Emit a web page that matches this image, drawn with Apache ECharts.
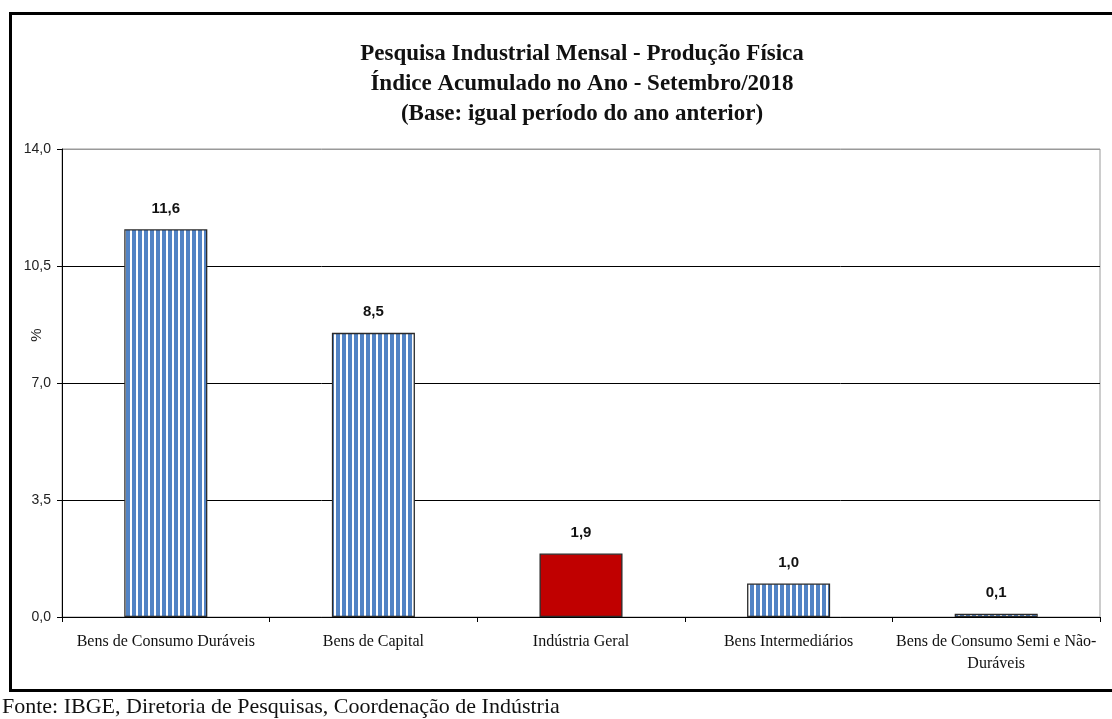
<!DOCTYPE html>
<html><head><meta charset="utf-8">
<script src="https://cdn.jsdelivr.net/npm/echarts@6/dist/echarts.min.js"></script>
<style>html,body{margin:0;padding:0;background:#fff}#c{width:1112px;height:719px}</style>
</head><body><div id="c"></div>
<script>
const categories = ['Bens de Consumo Duráveis','Bens de Capital','Indústria Geral','Bens Intermediários','Bens de Consumo Semi e Não-\nDuráveis'];
const values = [11.6, 8.5, 1.9, 1.0, 0.1];
const highlighted = [false, false, true, false, false];
const yTicks = [0, 3.5, 7, 10.5, 14];
const titleLines = ['Pesquisa Industrial Mensal - Produção Física','Índice Acumulado no Ano - Setembro/2018','(Base: igual período do ano anterior)'];
const yName = '%';
const footer = 'Fonte: IBGE, Diretoria de Pesquisas, Coordenação de Indústria';

const cv = document.createElement('canvas');
cv.width = 6; cv.height = 4;
const cx = cv.getContext('2d');
cx.fillStyle = '#ffffff'; cx.fillRect(0,0,6,4);
cx.fillStyle = '#5283c4'; cx.fillRect(0,0,4,4);
const stripe = {image: cv, repeat: 'repeat'};

const fmt = v => v.toFixed(1).replace('.', ',');
const chart = echarts.init(document.getElementById('c'), null, {renderer:'canvas'});
chart.setOption({
  animation: false,
  backgroundColor: '#fff',
  title: {
    text: titleLines.join('\n'), left: 577, top: 34, textAlign: 'center',
    textStyle: {fontFamily: 'Liberation Serif', fontWeight: 'bold', fontSize: 23, lineHeight: 30, color: '#111'}
  },
  grid: {left: 62, right: 12, top: 149, bottom: 102, show: true, borderColor: '#999', borderWidth: 1},
  xAxis: {
    type: 'category', data: categories,
    axisLine: {lineStyle: {color: '#000', width: 1}},
    axisTick: {show: true, length: 5, alignWithLabel: false, lineStyle: {color: '#000'}},
    axisLabel: {interval: 0, margin: 14, fontFamily: 'Liberation Serif', fontSize: 16, color: '#111', lineHeight: 22}
  },
  yAxis: {
    type: 'value', min: 0, max: 14, interval: 3.5,
    axisLine: {show: true, lineStyle: {color: '#000'}},
    axisTick: {show: true, length: 5, lineStyle: {color: '#000'}},
    axisLabel: {formatter: v => fmt(v), fontFamily: 'Liberation Sans', fontSize: 14, color: '#222', margin: 11},
    splitLine: {show: true, lineStyle: {color: ['#000','#000','#000','#000','#999'], width: 1}}
  },
  series: [{
    type: 'bar', barWidth: '40%',
    data: values.map((v, i) => ({value: v, itemStyle: {color: highlighted[i] ? '#c00000' : stripe}})),
    itemStyle: {borderColor: '#2a2a2a', borderWidth: 1.3},
    label: {show: true, position: 'top', distance: 13, formatter: p => fmt(p.value),
      fontFamily: 'Liberation Sans', fontWeight: 'bold', fontSize: 15, color: '#111'}
  }],
  graphic: [
    {type: 'rect', left: 8, top: 11, shape: {width: 1120, height: 677}, style: {fill: 'none', stroke: '#000', lineWidth: 3}, z: 100},
    {type: 'text', x: 37, y: 335, rotation: Math.PI / 2, style: {text: yName, fontFamily: 'Liberation Sans', fontSize: 15, fill: '#222', align: 'center', verticalAlign: 'middle'}},
    {type: 'text', left: 2, top: 696, style: {text: footer, fontFamily: 'Liberation Serif', fontSize: 22, fill: '#111'}}
  ]
});
</script></body></html>
